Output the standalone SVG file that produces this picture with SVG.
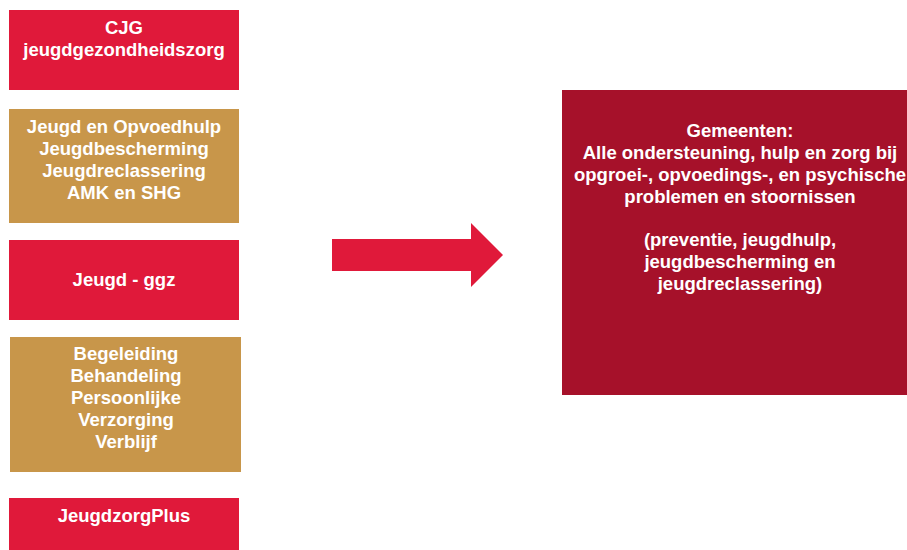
<svg xmlns="http://www.w3.org/2000/svg" width="907" height="550" viewBox="0 0 907 550">
<style>
.red{fill:#E0193A}
.gold{fill:#C8964A}
.dark{fill:#A6112A}
text{font-family:"Liberation Sans",Arial,sans-serif;font-weight:bold;font-size:18.5px;fill:#FFFFFF;text-anchor:middle}
</style>
<rect width="907" height="550" fill="#FFFFFF"/>
<g id="cjg"><rect class="red" x="9" y="10" width="230" height="80"/>
<text x="124" y="34">CJG</text><text x="124" y="56">jeugdgezondheidszorg</text></g>
<g id="opvoedhulp"><rect class="gold" x="9" y="109" width="230" height="114"/>
<text x="124" y="133">Jeugd en Opvoedhulp</text><text x="124" y="155">Jeugdbescherming</text><text x="124" y="177">Jeugdreclassering</text><text x="124" y="199">AMK en SHG</text></g>
<g id="ggz"><rect class="red" x="9" y="240" width="230" height="80"/>
<text x="124" y="286">Jeugd - ggz</text></g>
<g id="awbz"><rect class="gold" x="10" y="337" width="231" height="135"/>
<text x="126" y="360">Begeleiding</text><text x="126" y="382">Behandeling</text><text x="126" y="404">Persoonlijke</text><text x="126" y="426">Verzorging</text><text x="126" y="448">Verblijf</text></g>
<g id="jeugdzorgplus"><rect class="red" x="9" y="498" width="230" height="52"/>
<text x="124" y="522">JeugdzorgPlus</text></g>
<g id="connectors"><polygon class="red" points="332,239 471,239 471,223 503,255 471,287 471,271 332,271"/></g>
<g id="gemeenten"><rect class="dark" x="562" y="90" width="345" height="305"/>
<text x="740" y="137">Gemeenten:</text><text x="740" y="159">Alle ondersteuning, hulp en zorg bij</text><text x="740" y="181">opgroei-, opvoedings-, en psychische</text><text x="740" y="203">problemen en stoornissen</text>
<text x="740" y="246">(preventie, jeugdhulp,</text><text x="740" y="268">jeugdbescherming en</text><text x="740" y="290">jeugdreclassering)</text></g>
</svg>
